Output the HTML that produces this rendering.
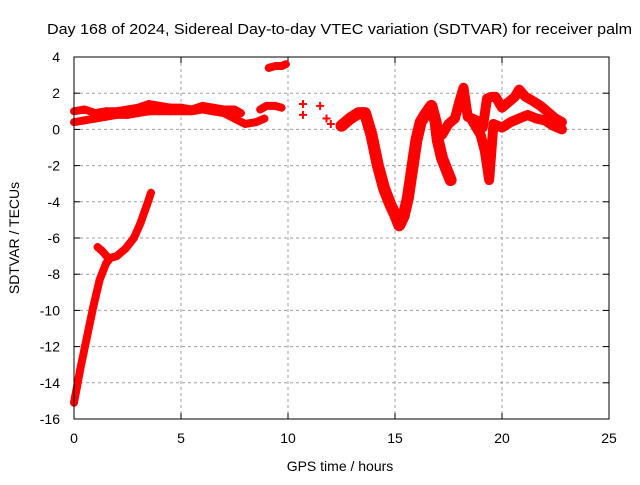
<!DOCTYPE html>
<html><head><meta charset="utf-8"><style>
body{margin:0;background:#fff;font-family:"Liberation Sans",sans-serif}
svg text{font-family:"Liberation Sans",sans-serif;font-size:14px;fill:#000}
</style></head><body>
<svg id="c" width="640" height="480">
<rect width="640" height="480" fill="#fff"/>
<text x="47" y="34" textLength="585" lengthAdjust="spacingAndGlyphs" style="font-size:15px">Day 168 of 2024, Sidereal Day-to-day VTEC variation (SDTVAR) for receiver palm</text>
<text x="340" y="471" text-anchor="middle">GPS time / hours</text>
<text transform="translate(19,238) rotate(-90)" text-anchor="middle">SDTVAR / TECUs</text>
<g id="grid"></g><g id="marks"></g>
<rect x="74" y="57" width="535" height="362" fill="none" stroke="#000"/>
</svg>
<script>
const xTicks=[0,5,10,15,20,25];
const yTicks=[4,2,0,-2,-4,-6,-8,-10,-12,-14,-16];
const s1x=[0,0.3,0.6,0.9,1.2,1.5,1.7,2.0,2.4,2.8,3.1,3.4,3.6];
const s1y=[-15.1,-13.2,-11.5,-9.8,-8.3,-7.4,-7.1,-7.0,-6.6,-6.0,-5.2,-4.2,-3.5];
const s2x=[1.1,1.3,1.6];
const s2y=[-6.5,-6.7,-7.1];
const s3x=[0,0.5,1,1.5,2,2.5,3,3.5,4,4.5,5,5.5,6,6.5,7,7.5,7.8];
const s3y=[1.0,1.1,0.9,1.0,1.0,1.1,1.2,1.4,1.3,1.2,1.2,1.1,1.3,1.2,1.1,1.1,0.9];
const s4x=[0,0.5,1,1.5,2,2.5,3,3.5,4,4.5,5,5.5,6,6.5,7,7.5,8,8.5,8.9];
const s4y=[0.4,0.5,0.6,0.7,0.8,0.8,0.9,1.0,1.0,1.0,1.0,1.0,1.1,1.0,0.9,0.6,0.3,0.4,0.6];
const s5x=[8.7,9.0,9.4,9.7];
const s5y=[1.1,1.3,1.3,1.2];
const s6x=[9.1,9.4,9.7,9.9];
const s6y=[3.4,3.5,3.5,3.6];
const s7x=[10.7,10.7,11.5,11.8,12.0];
const s7y=[1.4,0.8,1.3,0.6,0.3];
const s8x=[12.5,12.9,13.3,13.6,13.9,14.2,14.5,14.8,15.0,15.2,15.4,15.6,15.8,16.0,16.2,16.4,16.7,16.9,17.0,17.2,17.4,17.6];
const s8y=[0.2,0.6,0.9,0.9,-0.3,-2.0,-3.3,-4.2,-4.7,-5.3,-4.8,-3.8,-2.2,-0.6,0.4,0.8,1.3,0.4,-0.6,-1.6,-2.2,-2.8];
const s9x=[17.2,17.5,17.8,18.0,18.2,18.4,18.8,19.1,19.3,19.5,19.7,20.0,20.3,20.6,20.8,21.1,21.4,21.8,22.2,22.5,22.8];
const s9y=[-0.3,0.3,0.6,1.5,2.3,0.7,0.5,0.1,1.7,1.8,1.8,1.2,1.5,1.8,2.2,1.8,1.6,1.3,0.9,0.6,0.4];
const s10x=[18.6,19.0,19.2,19.4,19.6,20.0,20.4,20.8,21.2,21.6,22.0,22.4,22.8];
const s10y=[0.5,-0.3,-1.2,-2.8,0.3,0.1,0.4,0.6,0.8,0.6,0.5,0.2,0];
const series=[[s1x,s1y,8],[s2x,s2y,8],[s3x,s3y,8],[s4x,s4y,8],[s5x,s5y,8],[s6x,s6y,8],[s8x,s8y,12],[s9x,s9y,10],[s10x,s10y,10]];
const sx=h=>74+h*21.4, sy=v=>57+(4-v)*18.1;
const NS="http://www.w3.org/2000/svg";
const g=document.getElementById('grid'), m=document.getElementById('marks');
function el(t,a,p){const e=document.createElementNS(NS,t);for(const k in a)e.setAttribute(k,a[k]);p.appendChild(e);return e;}
xTicks.forEach(t=>{const x=sx(t);
 if(t>0&&t<25){const l=el('line',{x1:x,x2:x,y1:57,y2:419,stroke:'#a0a0a0','stroke-dasharray':'3,3'},g);
 
 }
 el('line',{x1:x,x2:x,y1:419,y2:413,stroke:'#000'},g);el('line',{x1:x,x2:x,y1:57,y2:63,stroke:'#000'},g);
 const tx=el('text',{x:x,y:443,'text-anchor':'middle'},g);tx.textContent=t;
 
 });
yTicks.forEach(t=>{const y=sy(t);
 if(t<4&&t>-16){const l=el('line',{x1:74,x2:609,y1:y,y2:y,stroke:'#a0a0a0','stroke-dasharray':'3,3'},g);
 
 }
 el('line',{x1:74,x2:80,y1:y,y2:y,stroke:'#000'},g);el('line',{x1:609,x2:603,y1:y,y2:y,stroke:'#000'},g);
 const tx=el('text',{x:60,y:y+5,'text-anchor':'end'},g);tx.textContent=t;
 
 });
series.forEach(([xs,ys,w])=>{
 const pts=xs.map((x,i)=>sx(x)+','+sy(ys[i])).join(' ');
 const p=el('polyline',{points:pts,fill:'none',stroke:'#f00','stroke-width':w,'stroke-linejoin':'round','stroke-linecap':'round'},m);
 
 
 xs.forEach((x,i)=>{const X=sx(x),Y=sy(ys[i]);
  const q=el('path',{d:`M${X-4},${Y}h8M${X},${Y-4}v8`,stroke:'#f00','stroke-width':1.5},m);
  
  });
});
s7x.forEach((x,i)=>{const X=sx(x),Y=sy(s7y[i]);
 const q=el('path',{d:`M${X-4},${Y}h8M${X},${Y-4}v8`,stroke:'#f00','stroke-width':2},m);
 
 });
</script>
</body></html>
